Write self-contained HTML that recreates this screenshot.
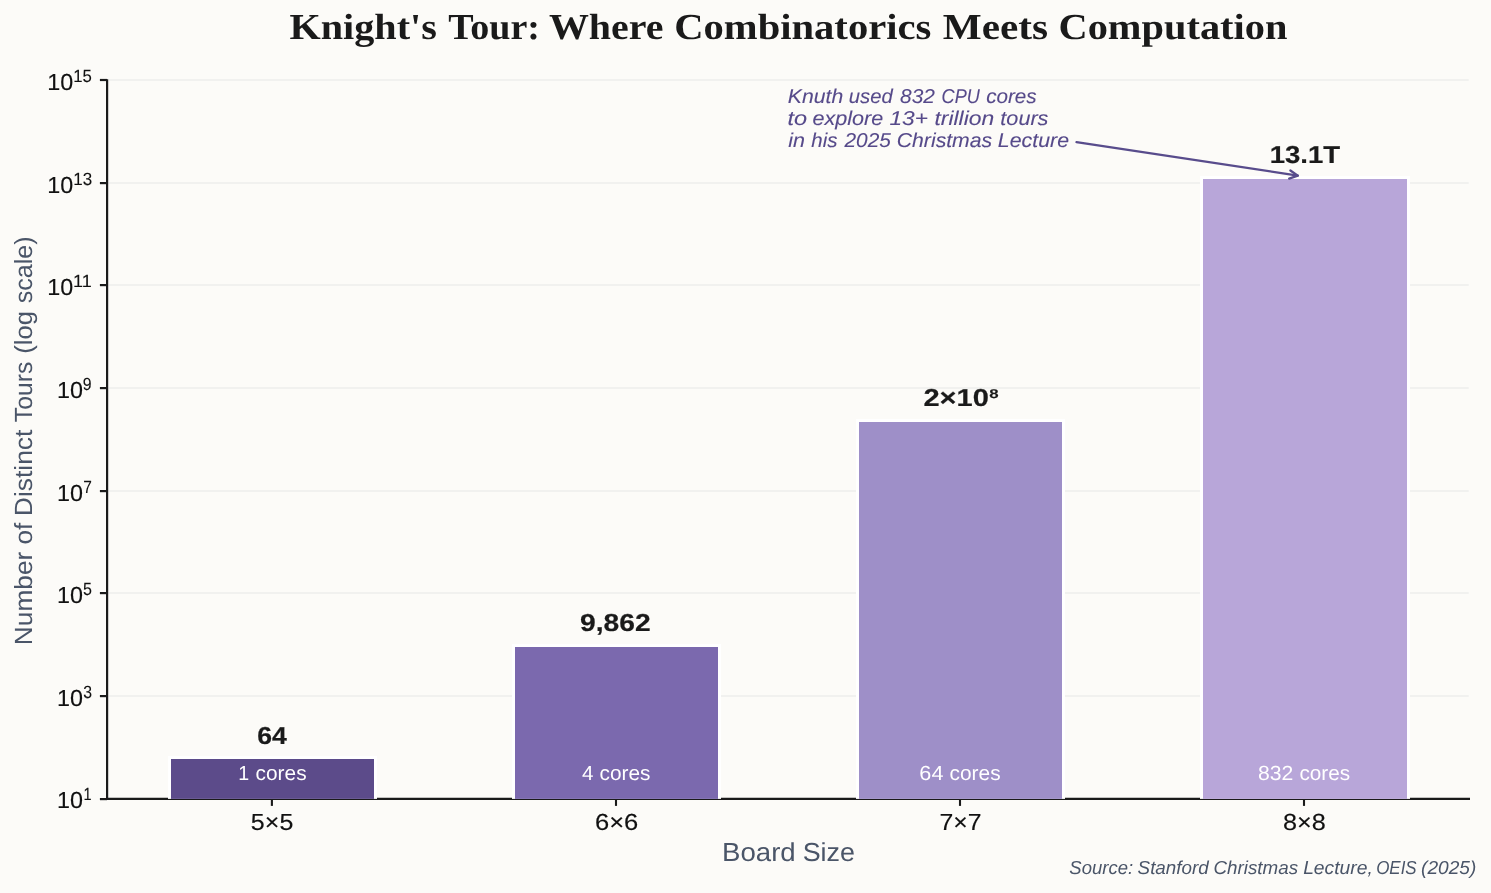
<!DOCTYPE html>
<html><head><meta charset="utf-8"><title>Knight's Tour: Where Combinatorics Meets Computation</title>
<style>html,body{margin:0;padding:0;background:#fcfbf8;width:1491px;height:893px;overflow:hidden}svg{display:block;will-change:transform}text{white-space:pre}</style></head>
<body><svg width="1491" height="893" viewBox="0 0 1491 893">
<rect x="0" y="0" width="1491" height="893" fill="#fcfbf8"/>
<line x1="108.5" y1="80.00" x2="1468.7" y2="80.00" stroke="#f1f1ef" stroke-width="2.0"/>
<line x1="108.5" y1="183.10" x2="1468.7" y2="183.10" stroke="#f1f1ef" stroke-width="2.0"/>
<line x1="108.5" y1="285.10" x2="1468.7" y2="285.10" stroke="#f1f1ef" stroke-width="2.0"/>
<line x1="108.5" y1="388.10" x2="1468.7" y2="388.10" stroke="#f1f1ef" stroke-width="2.0"/>
<line x1="108.5" y1="491.10" x2="1468.7" y2="491.10" stroke="#f1f1ef" stroke-width="2.0"/>
<line x1="108.5" y1="593.10" x2="1468.7" y2="593.10" stroke="#f1f1ef" stroke-width="2.0"/>
<line x1="108.5" y1="696.10" x2="1468.7" y2="696.10" stroke="#f1f1ef" stroke-width="2.0"/>
<line x1="108.5" y1="799.10" x2="1468.7" y2="799.10" stroke="#f1f1ef" stroke-width="2.0"/>
<line x1="107.1" y1="79.2" x2="107.1" y2="799.9" stroke="#1a1a1a" stroke-width="2.2"/>
<line x1="106" y1="798.9" x2="1470" y2="798.9" stroke="#1a1a1a" stroke-width="2.1"/>
<line x1="99.9" y1="80.00" x2="107" y2="80.00" stroke="#1a1a1a" stroke-width="2.2"/>
<line x1="99.9" y1="183.10" x2="107" y2="183.10" stroke="#1a1a1a" stroke-width="2.2"/>
<line x1="99.9" y1="285.10" x2="107" y2="285.10" stroke="#1a1a1a" stroke-width="2.2"/>
<line x1="99.9" y1="388.10" x2="107" y2="388.10" stroke="#1a1a1a" stroke-width="2.2"/>
<line x1="99.9" y1="491.10" x2="107" y2="491.10" stroke="#1a1a1a" stroke-width="2.2"/>
<line x1="99.9" y1="593.10" x2="107" y2="593.10" stroke="#1a1a1a" stroke-width="2.2"/>
<line x1="99.9" y1="696.10" x2="107" y2="696.10" stroke="#1a1a1a" stroke-width="2.2"/>
<line x1="99.9" y1="799.10" x2="107" y2="799.10" stroke="#1a1a1a" stroke-width="2.2"/>
<line x1="271.90" y1="799" x2="271.90" y2="805.9" stroke="#1a1a1a" stroke-width="2.1"/>
<line x1="616.00" y1="799" x2="616.00" y2="805.9" stroke="#1a1a1a" stroke-width="2.1"/>
<line x1="960.00" y1="799" x2="960.00" y2="805.9" stroke="#1a1a1a" stroke-width="2.1"/>
<line x1="1304.00" y1="799" x2="1304.00" y2="805.9" stroke="#1a1a1a" stroke-width="2.1"/>
<rect x="168" y="756" width="209" height="42.90" fill="#ffffff"/>
<rect x="171" y="759" width="203" height="39.90" fill="#5c4b8a"/>
<rect x="512" y="644" width="209" height="154.90" fill="#ffffff"/>
<rect x="515" y="647" width="203" height="151.90" fill="#7b69ae"/>
<rect x="856" y="419" width="209" height="379.90" fill="#ffffff"/>
<rect x="859" y="422" width="203" height="376.90" fill="#9e8fc8"/>
<rect x="1200" y="176" width="210" height="622.90" fill="#ffffff"/>
<rect x="1203" y="179" width="204" height="619.90" fill="#b8a6d9"/>
<g stroke="#584c8c" stroke-width="2.3" stroke-linecap="round" stroke-linejoin="round" fill="none"><line x1="1076.5" y1="142.1" x2="1297.8" y2="175.6"/><polyline points="1290.4,170.5 1297.8,175.6 1289.2,178.6"/></g>
<g font-family='"Liberation Serif", serif' font-size="36.50" font-weight="bold" font-style="normal" fill="#1a1a1a" text-rendering="geometricPrecision"><text x="289.46" y="39.00" textLength="147.42" lengthAdjust="spacingAndGlyphs">Knight's</text><text x="448.36" y="39.00" textLength="91.60" lengthAdjust="spacingAndGlyphs">Tour:</text><text x="548.92" y="39.00" textLength="114.57" lengthAdjust="spacingAndGlyphs">Where</text><text x="674.24" y="39.00" textLength="257.04" lengthAdjust="spacingAndGlyphs">Combinatorics</text><text x="942.82" y="39.00" textLength="105.26" lengthAdjust="spacingAndGlyphs">Meets</text><text x="1058.48" y="39.00" textLength="228.99" lengthAdjust="spacingAndGlyphs">Computation</text></g>
<g font-family='"Liberation Sans", sans-serif' font-size="23.20" font-weight="normal" font-style="normal" fill="#111111" stroke="#111111" stroke-width="0.15" text-rendering="geometricPrecision"><text x="47.17" y="90.00" textLength="25.97" lengthAdjust="spacingAndGlyphs">10</text></g>
<g font-family='"Liberation Sans", sans-serif' font-size="17.60" font-weight="normal" font-style="normal" fill="#111111" stroke="#111111" stroke-width="0.1" text-rendering="geometricPrecision"><text x="73.26" y="82.00" textLength="18.64" lengthAdjust="spacingAndGlyphs">15</text></g>
<g font-family='"Liberation Sans", sans-serif' font-size="23.20" font-weight="normal" font-style="normal" fill="#111111" stroke="#111111" stroke-width="0.15" text-rendering="geometricPrecision"><text x="47.17" y="193.00" textLength="25.97" lengthAdjust="spacingAndGlyphs">10</text></g>
<g font-family='"Liberation Sans", sans-serif' font-size="17.60" font-weight="normal" font-style="normal" fill="#111111" stroke="#111111" stroke-width="0.1" text-rendering="geometricPrecision"><text x="73.21" y="185.00" textLength="18.91" lengthAdjust="spacingAndGlyphs">13</text></g>
<g font-family='"Liberation Sans", sans-serif' font-size="23.20" font-weight="normal" font-style="normal" fill="#111111" stroke="#111111" stroke-width="0.15" text-rendering="geometricPrecision"><text x="47.17" y="295.00" textLength="25.97" lengthAdjust="spacingAndGlyphs">10</text></g>
<g font-family='"Liberation Sans", sans-serif' font-size="17.60" font-weight="normal" font-style="normal" fill="#111111" stroke="#111111" stroke-width="0.1" text-rendering="geometricPrecision"><text x="73.06" y="287.00" textLength="18.73" lengthAdjust="spacingAndGlyphs">11</text></g>
<g font-family='"Liberation Sans", sans-serif' font-size="23.20" font-weight="normal" font-style="normal" fill="#111111" stroke="#111111" stroke-width="0.15" text-rendering="geometricPrecision"><text x="56.98" y="398.00" textLength="25.98" lengthAdjust="spacingAndGlyphs">10</text></g>
<g font-family='"Liberation Sans", sans-serif' font-size="17.60" font-weight="normal" font-style="normal" fill="#111111" stroke="#111111" stroke-width="0.1" text-rendering="geometricPrecision"><text x="82.77" y="390.00" textLength="8.79" lengthAdjust="spacingAndGlyphs">9</text></g>
<g font-family='"Liberation Sans", sans-serif' font-size="23.20" font-weight="normal" font-style="normal" fill="#111111" stroke="#111111" stroke-width="0.15" text-rendering="geometricPrecision"><text x="56.98" y="501.00" textLength="25.98" lengthAdjust="spacingAndGlyphs">10</text></g>
<g font-family='"Liberation Sans", sans-serif' font-size="17.60" font-weight="normal" font-style="normal" fill="#111111" stroke="#111111" stroke-width="0.1" text-rendering="geometricPrecision"><text x="83.32" y="493.00" textLength="8.59" lengthAdjust="spacingAndGlyphs">7</text></g>
<g font-family='"Liberation Sans", sans-serif' font-size="23.20" font-weight="normal" font-style="normal" fill="#111111" stroke="#111111" stroke-width="0.15" text-rendering="geometricPrecision"><text x="56.98" y="603.00" textLength="25.98" lengthAdjust="spacingAndGlyphs">10</text></g>
<g font-family='"Liberation Sans", sans-serif' font-size="17.60" font-weight="normal" font-style="normal" fill="#111111" stroke="#111111" stroke-width="0.1" text-rendering="geometricPrecision"><text x="83.12" y="595.00" textLength="8.93" lengthAdjust="spacingAndGlyphs">5</text></g>
<g font-family='"Liberation Sans", sans-serif' font-size="23.20" font-weight="normal" font-style="normal" fill="#111111" stroke="#111111" stroke-width="0.15" text-rendering="geometricPrecision"><text x="56.98" y="706.00" textLength="25.98" lengthAdjust="spacingAndGlyphs">10</text></g>
<g font-family='"Liberation Sans", sans-serif' font-size="17.60" font-weight="normal" font-style="normal" fill="#111111" stroke="#111111" stroke-width="0.1" text-rendering="geometricPrecision"><text x="83.25" y="698.00" textLength="8.81" lengthAdjust="spacingAndGlyphs">3</text></g>
<g font-family='"Liberation Sans", sans-serif' font-size="23.20" font-weight="normal" font-style="normal" fill="#111111" stroke="#111111" stroke-width="0.15" text-rendering="geometricPrecision"><text x="56.98" y="808.00" textLength="25.98" lengthAdjust="spacingAndGlyphs">10</text></g>
<g font-family='"Liberation Sans", sans-serif' font-size="17.60" font-weight="normal" font-style="normal" fill="#111111" stroke="#111111" stroke-width="0.1" text-rendering="geometricPrecision"><text x="83.52" y="800.00" textLength="8.09" lengthAdjust="spacingAndGlyphs">1</text></g>
<g font-family='"Liberation Sans", sans-serif' font-size="23.20" font-weight="normal" font-style="normal" fill="#111111" stroke="#111111" stroke-width="0.15" text-rendering="geometricPrecision"><text x="250.89" y="830.00" textLength="42.47" lengthAdjust="spacingAndGlyphs">5×5</text></g>
<g font-family='"Liberation Sans", sans-serif' font-size="23.20" font-weight="normal" font-style="normal" fill="#111111" stroke="#111111" stroke-width="0.15" text-rendering="geometricPrecision"><text x="594.97" y="830.00" textLength="43.39" lengthAdjust="spacingAndGlyphs">6×6</text></g>
<g font-family='"Liberation Sans", sans-serif' font-size="23.20" font-weight="normal" font-style="normal" fill="#111111" stroke="#111111" stroke-width="0.15" text-rendering="geometricPrecision"><text x="939.41" y="830.00" textLength="42.02" lengthAdjust="spacingAndGlyphs">7×7</text></g>
<g font-family='"Liberation Sans", sans-serif' font-size="23.20" font-weight="normal" font-style="normal" fill="#111111" stroke="#111111" stroke-width="0.15" text-rendering="geometricPrecision"><text x="1283.04" y="830.00" textLength="42.83" lengthAdjust="spacingAndGlyphs">8×8</text></g>
<g font-family='"Liberation Sans", sans-serif' font-size="26.00" font-weight="normal" font-style="normal" fill="#4a5568" text-rendering="geometricPrecision"><text x="722.05" y="861.00" textLength="73.64" lengthAdjust="spacingAndGlyphs">Board</text><text x="802.69" y="861.00" textLength="52.27" lengthAdjust="spacingAndGlyphs">Size</text></g>
<g font-family='"Liberation Sans", sans-serif' font-size="24.85" font-weight="normal" font-style="normal" fill="#4a5568" text-rendering="geometricPrecision"><text transform="translate(32.00,645.13) rotate(-90)" textLength="93.46" lengthAdjust="spacingAndGlyphs">Number</text><text transform="translate(32.00,544.55) rotate(-90)" textLength="21.83" lengthAdjust="spacingAndGlyphs">of</text><text transform="translate(32.00,516.13) rotate(-90)" textLength="86.52" lengthAdjust="spacingAndGlyphs">Distinct</text><text transform="translate(32.00,422.18) rotate(-90)" textLength="60.47" lengthAdjust="spacingAndGlyphs">Tours</text><text transform="translate(32.00,353.72) rotate(-90)" textLength="42.72" lengthAdjust="spacingAndGlyphs">(log</text><text transform="translate(32.00,303.16) rotate(-90)" textLength="66.78" lengthAdjust="spacingAndGlyphs">scale)</text></g>
<g font-family='"Liberation Sans", sans-serif' font-size="12.70" font-weight="bold" font-style="normal" fill="#1a1a1a" stroke="#1a1a1a" stroke-width="0.15" text-rendering="geometricPrecision"><text x="989.21" y="398.00" textLength="9.35" lengthAdjust="spacingAndGlyphs">8</text></g>
<g font-family='"Liberation Sans", sans-serif' font-size="24.50" font-weight="bold" font-style="normal" fill="#1a1a1a" stroke="#1a1a1a" stroke-width="0.2" text-rendering="geometricPrecision"><text x="257.26" y="744.00" textLength="29.62" lengthAdjust="spacingAndGlyphs">64</text></g>
<g font-family='"Liberation Sans", sans-serif' font-size="24.50" font-weight="bold" font-style="normal" fill="#1a1a1a" stroke="#1a1a1a" stroke-width="0.2" text-rendering="geometricPrecision"><text x="579.96" y="631.00" textLength="70.64" lengthAdjust="spacingAndGlyphs">9,862</text></g>
<g font-family='"Liberation Sans", sans-serif' font-size="24.50" font-weight="bold" font-style="normal" fill="#1a1a1a" stroke="#1a1a1a" stroke-width="0.2" text-rendering="geometricPrecision"><text x="923.40" y="406.00" textLength="65.44" lengthAdjust="spacingAndGlyphs">2×10</text></g>
<g font-family='"Liberation Sans", sans-serif' font-size="24.50" font-weight="bold" font-style="normal" fill="#1a1a1a" stroke="#1a1a1a" stroke-width="0.2" text-rendering="geometricPrecision"><text x="1269.70" y="163.00" textLength="70.50" lengthAdjust="spacingAndGlyphs">13.1T</text></g>
<g font-family='"Liberation Sans", sans-serif' font-size="20.50" font-weight="normal" font-style="normal" fill="#ffffff" text-rendering="geometricPrecision"><text x="238.32" y="780.00" textLength="10.92" lengthAdjust="spacingAndGlyphs">1</text><text x="255.61" y="780.00" textLength="50.97" lengthAdjust="spacingAndGlyphs">cores</text></g>
<g font-family='"Liberation Sans", sans-serif' font-size="20.50" font-weight="normal" font-style="normal" fill="#ffffff" text-rendering="geometricPrecision"><text x="582.10" y="780.00" textLength="11.49" lengthAdjust="spacingAndGlyphs">4</text><text x="599.50" y="780.00" textLength="50.87" lengthAdjust="spacingAndGlyphs">cores</text></g>
<g font-family='"Liberation Sans", sans-serif' font-size="20.50" font-weight="normal" font-style="normal" fill="#ffffff" text-rendering="geometricPrecision"><text x="919.37" y="780.00" textLength="24.12" lengthAdjust="spacingAndGlyphs">64</text><text x="949.60" y="780.00" textLength="51.02" lengthAdjust="spacingAndGlyphs">cores</text></g>
<g font-family='"Liberation Sans", sans-serif' font-size="20.50" font-weight="normal" font-style="normal" fill="#ffffff" text-rendering="geometricPrecision"><text x="1257.91" y="780.00" textLength="35.37" lengthAdjust="spacingAndGlyphs">832</text><text x="1299.41" y="780.00" textLength="50.68" lengthAdjust="spacingAndGlyphs">cores</text></g>
<g font-family='"Liberation Sans", sans-serif' font-size="20.00" font-weight="normal" font-style="italic" fill="#564a8a" stroke="#564a8a" stroke-width="0.1" text-rendering="geometricPrecision"><text x="787.82" y="103.00" textLength="55.35" lengthAdjust="spacingAndGlyphs">Knuth</text><text x="848.78" y="103.00" textLength="43.97" lengthAdjust="spacingAndGlyphs">used</text><text x="900.11" y="103.00" textLength="34.79" lengthAdjust="spacingAndGlyphs">832</text><text x="941.60" y="103.00" textLength="38.13" lengthAdjust="spacingAndGlyphs">CPU</text><text x="986.18" y="103.00" textLength="50.47" lengthAdjust="spacingAndGlyphs">cores</text></g>
<g font-family='"Liberation Sans", sans-serif' font-size="20.00" font-weight="normal" font-style="italic" fill="#564a8a" stroke="#564a8a" stroke-width="0.1" text-rendering="geometricPrecision"><text x="787.52" y="125.00" textLength="19.60" lengthAdjust="spacingAndGlyphs">to</text><text x="812.53" y="125.00" textLength="70.81" lengthAdjust="spacingAndGlyphs">explore</text><text x="889.41" y="125.00" textLength="38.48" lengthAdjust="spacingAndGlyphs">13+</text><text x="934.44" y="125.00" textLength="59.70" lengthAdjust="spacingAndGlyphs">trillion</text><text x="1000.36" y="125.00" textLength="48.08" lengthAdjust="spacingAndGlyphs">tours</text></g>
<g font-family='"Liberation Sans", sans-serif' font-size="20.00" font-weight="normal" font-style="italic" fill="#564a8a" stroke="#564a8a" stroke-width="0.1" text-rendering="geometricPrecision"><text x="788.27" y="147.00" textLength="16.75" lengthAdjust="spacingAndGlyphs">in</text><text x="811.38" y="147.00" textLength="26.15" lengthAdjust="spacingAndGlyphs">his</text><text x="844.47" y="147.00" textLength="46.38" lengthAdjust="spacingAndGlyphs">2025</text><text x="896.81" y="147.00" textLength="95.32" lengthAdjust="spacingAndGlyphs">Christmas</text><text x="997.82" y="147.00" textLength="71.21" lengthAdjust="spacingAndGlyphs">Lecture</text></g>
<g font-family='"Liberation Sans", sans-serif' font-size="18.80" font-weight="normal" font-style="italic" fill="#4a5568" text-rendering="geometricPrecision"><text x="1069.31" y="874.00" textLength="63.80" lengthAdjust="spacingAndGlyphs">Source:</text><text x="1137.61" y="874.00" textLength="71.08" lengthAdjust="spacingAndGlyphs">Stanford</text><text x="1213.44" y="874.00" textLength="84.61" lengthAdjust="spacingAndGlyphs">Christmas</text><text x="1303.15" y="874.00" textLength="69.74" lengthAdjust="spacingAndGlyphs">Lecture,</text><text x="1376.13" y="874.00" textLength="40.53" lengthAdjust="spacingAndGlyphs">OEIS</text><text x="1421.06" y="874.00" textLength="55.25" lengthAdjust="spacingAndGlyphs">(2025)</text></g>
</svg></body></html>
